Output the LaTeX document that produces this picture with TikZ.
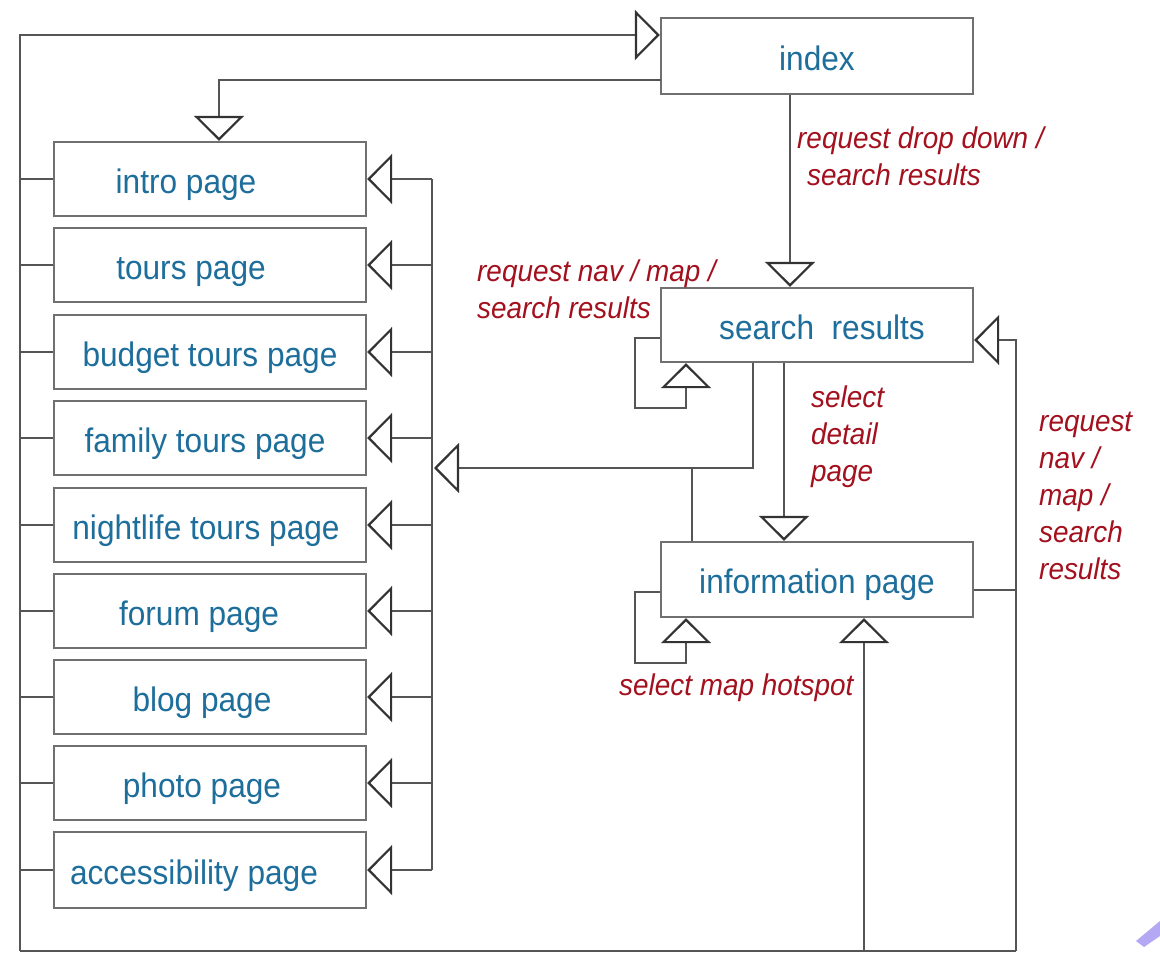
\documentclass[tikz,border=0pt]{standalone}
\usepackage{fontspec}
\setmainfont{Liberation Sans}[FakeStretch=0.93]
\usetikzlibrary{arrows.meta}
\definecolor{boxblue}{HTML}{1E6E9C}
\definecolor{labred}{HTML}{A3101E}
\definecolor{linegray}{HTML}{555555}
\definecolor{boxgray}{HTML}{707070}
\definecolor{tipgray}{HTML}{333333}
\definecolor{purpl}{HTML}{B4A8F4}
\newcommand\tsh[2]{\kern#1pt #2\kern-#1pt}
\begin{document}
\begin{tikzpicture}[x=1pt,y=-1pt,
 pagebox/.style={draw=boxgray, line width=2.4pt, minimum width=312pt, minimum height=74pt, inner sep=0pt, text=boxblue, text height=34pt, text depth=6pt, font=\fontsize{34}{40}\selectfont},
 conn/.style={draw=linegray, line width=1.8pt},
 tri/.style={conn, -{Triangle[open, length=25pt, width=50pt, line width=2.2pt, color=tipgray]}},
 lab/.style={text=labred, font=\fontsize{30}{37}\selectfont\itshape, align=left, inner sep=0pt, anchor=north west}]
\useasboundingbox (0,0) rectangle (1160,953);
\fill[white] (0,0) rectangle (1160,953);

% main boxes
\node[pagebox, minimum height=76pt] (index) at (817,56) {index};
\node[pagebox] (search) at (817,325) {\tsh{5}{search\ \ results}};
\node[pagebox, minimum height=75pt] (info) at (817,579.5) {information page};

% page boxes
\node[pagebox] (intro)  at (210,179)   {\tsh{-24}{intro page}};
\node[pagebox] (tours)  at (210,265)   {\tsh{-19}{tours page}};
\node[pagebox] (budget) at (210,352)   {budget tours page};
\node[pagebox] (family) at (210,438)   {\tsh{-5}{family tours page}};
\node[pagebox] (night)  at (210,525)   {\tsh{-4}{nightlife tours page}};
\node[pagebox] (forum)  at (210,611)   {\tsh{-11}{forum page}};
\node[pagebox] (blog)   at (210,697)   {\tsh{-8}{blog page}};
\node[pagebox] (photo)  at (210,783)   {\tsh{-8}{photo page}};
\node[pagebox, minimum height=76pt] (access) at (210,870) {\tsh{-16}{accessibility page}};

% helper coordinates
\coordinate (L)  at (20,35);
\coordinate (BL) at (20,951);
\coordinate (BM) at (864,951);
\coordinate (BR) at (1016,951);
\coordinate (R1) at (1016,340);
\coordinate (R2) at (1016,590);
\coordinate (ia) at (661,80);
\coordinate (ib) at (219,80);
\coordinate (ic) at (790,0);
\coordinate (s1) at (635,338);
\coordinate (s2) at (635,408);
\coordinate (s3) at (686,408);
\coordinate (sd) at (784,0);
\coordinate (b1) at (753,468);
\coordinate (b2) at (434,468);
\coordinate (j1) at (692,468);
\coordinate (l1) at (635,592);
\coordinate (l2) at (635,663);
\coordinate (l3) at (686,663);
\coordinate (bus) at (432,0);

% outer loop
\draw[conn] (BL) -- (BR);
\draw[tri] (BL) -- (L) -- (index.west |- L);
\draw[tri] (BM) -- (BM |- info.south);
\draw[tri] (BR) -- (R1) -- (search.east |- R1);
\draw[conn] (R2 -| info.east) -- (R2);

% index connections
\draw[tri] (ia) -- (ib) -- (ib |- intro.north);
\draw[tri] (ic |- index.south) -- (ic |- search.north);

% search results
\draw[tri] (s1 -| search.west) -- (s1) -- (s2) -- (s3) -- (s3 |- search.south);
\draw[tri] (sd |- search.south) -- (sd |- info.north);
\draw[tri] (b1 |- search.south) -- (b1) -- (b2);
\draw[conn] (j1 |- info.north) -- (j1);

% information page loop
\draw[tri] (l1 -| info.west) -- (l1) -- (l2) -- (l3) -- (l3 |- info.south);

% bus on the right of page boxes
\draw[conn] (bus |- intro.east) -- (bus |- access.east);
\foreach \p in {intro,tours,budget,family,night,forum,blog,photo,access}{
  \draw[tri] (bus |- \p.east) -- (\p.east);
  \draw[conn] (L |- \p.west) -- (\p.west);
}

% labels
\node[lab] (lab1) at (797,127) {request drop down /\\\hspace*{10pt}search results};
\node[lab] (lab2) at (477,260) {request nav / map /\\search results};
\node[lab] (lab3) at (811,386) {select\\detail\\page};
\node[lab] (lab4) at (1039,412) {request\\nav /\\map /\\search\\results};
\node[lab] (lab5) at (619,674) {select map hotspot};

% corner mark
\fill[purpl] (1136,941) -- (1160,921) -- (1160,936) -- (1144,947) -- cycle;
\end{tikzpicture}
\end{document}
